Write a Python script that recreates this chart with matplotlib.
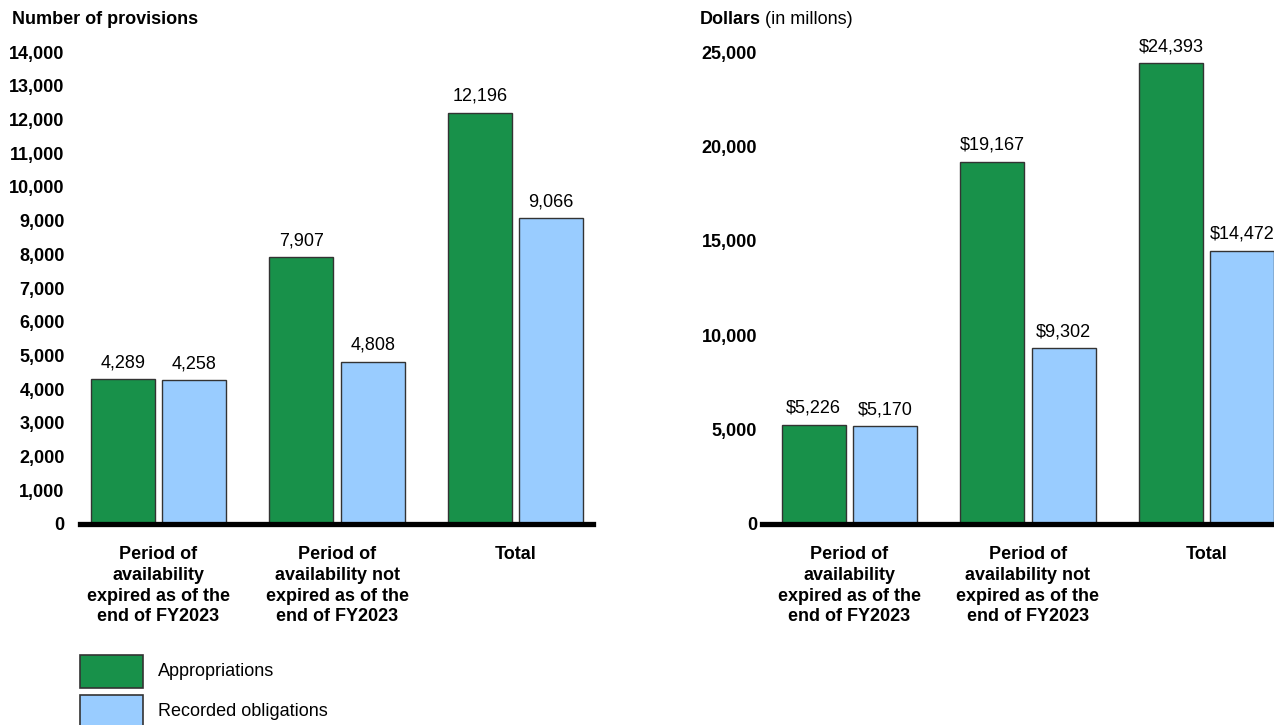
import numpy as np
import matplotlib
matplotlib.use("Agg")
import matplotlib.pyplot as plt
from matplotlib.patches import Rectangle

plt.rcParams['font.family'] = ['Liberation Sans', 'DejaVu Sans']

categories = ['Period of\navailability\nexpired as of the\nend of FY2023',
              'Period of\navailability not\nexpired as of the\nend of FY2023',
              'Total']
series_names = ['Appropriations', 'Recorded obligations']

# number of provisions
prov_approp = [4289, 7907, 12196]
prov_oblig = [4258, 4808, 9066]

# dollars in millions
dollars_approp = [5226, 19167, 24393]
dollars_oblig = [5170, 9302, 14472]

green = '#18914a'
blue = '#99ccff'
edge = '#333333'
fs = 13

fig = plt.figure(figsize=(12.74, 7.25), dpi=100)
W, H = 1274, 725


def make_axes(x0, x1, y_top, y_base):
    return fig.add_axes([x0 / W, (H - y_base) / H, (x1 - x0) / W, (y_base - y_top) / H])


def draw_panel(ax, approp, oblig, ymax, ystep, fmt, xlim, ypad):
    x = np.arange(len(categories))
    w = 0.36
    b1 = ax.bar(x - 0.2, approp, w, color=green, edgecolor=edge, linewidth=1, zorder=2)
    b2 = ax.bar(x + 0.2, oblig, w, color=blue, edgecolor=edge, linewidth=1, zorder=2)
    for bars, vals in ((b1, approp), (b2, oblig)):
        for r, v in zip(bars, vals):
            ax.annotate(fmt.format(v), (r.get_x() + r.get_width() / 2, v),
                        xytext=(0, 6), textcoords='offset points',
                        ha='center', va='bottom', fontsize=fs, clip_on=False)
    ax.set_ylim(0, ymax)
    ax.set_xlim(*xlim)
    ax.set_yticks(np.arange(0, ymax + 1, ystep))
    ax.set_yticklabels(['{:,}'.format(int(t)) for t in np.arange(0, ymax + 1, ystep)],
                       fontsize=fs, fontweight='bold')
    ax.set_xticks(x)
    ax.set_xticklabels(categories, fontsize=fs, fontweight='bold', linespacing=1.28)
    ax.tick_params(axis='both', length=0)
    ax.tick_params(axis='y', pad=ypad)
    ax.tick_params(axis='x', pad=16)
    for s in ['top', 'right', 'left']:
        ax.spines[s].set_visible(False)
    ax.spines['bottom'].set_linewidth(3.8)
    ax.spines['bottom'].set_zorder(3)
    ax.patch.set_alpha(0)


ax1 = make_axes(80, 593, 52, 524)
draw_panel(ax1, prov_approp, prov_oblig, 14000, 1000, '{:,}', (-0.44, 2.434), 11)

ax2 = make_axes(762, 1274, 52, 524)
draw_panel(ax2, dollars_approp, dollars_oblig, 25000, 5000, '${:,}', (-0.49, 2.378), 3.6)
for p in ax2.patches:
    p.set_clip_on(False)

fig.text(12 / W, 1 - 20 / H, 'Number of provisions', fontsize=fs, fontweight='bold',
         ha='left', va='center')
t = fig.text(700 / W, 1 - 20 / H, 'Dollars', fontsize=fs, fontweight='bold',
             ha='left', va='center')
fig.canvas.draw()
bb = t.get_window_extent()
fig.text(bb.x1 / W + 4 / W, 1 - 20 / H, '(in millons)', fontsize=fs, ha='left', va='center')

# legend drawn by hand (boxes + labels)
for i, (name, col) in enumerate(zip(series_names, [green, blue])):
    top = 655 + i * 40
    fig.patches.append(Rectangle((80 / W, 1 - (top + 33) / H), 63 / W, 33 / H,
                                 transform=fig.transFigure, facecolor=col,
                                 edgecolor=edge, linewidth=1.2))
    fig.text(158 / W, 1 - (top + 17) / H, name, fontsize=fs, ha='left', va='center')

fig.savefig('out.png', dpi=100)
